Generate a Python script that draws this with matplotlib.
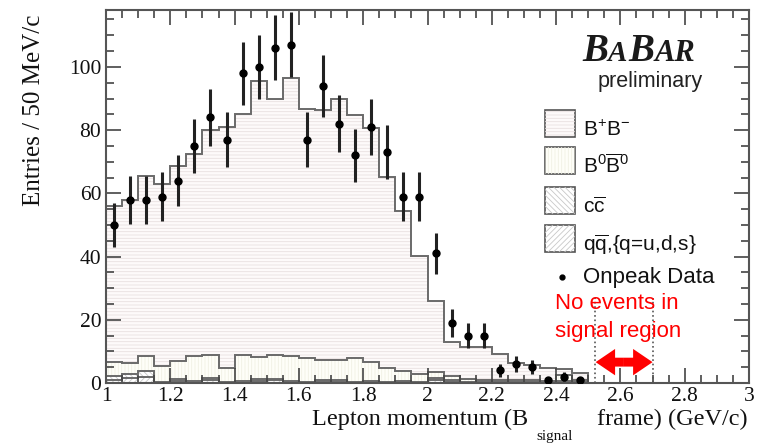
import numpy as np
import matplotlib

matplotlib.use("Agg")

import matplotlib.pyplot as plt
from matplotlib.patches import FancyArrowPatch, Rectangle
from matplotlib.ticker import FuncFormatter, MultipleLocator

W, H = 760, 444

plt.rcParams["font.family"] = ["Liberation Serif", "DejaVu Serif"]
plt.rcParams["mathtext.fontset"] = "custom"
plt.rcParams["mathtext.rm"] = "Liberation Sans"
plt.rcParams["mathtext.it"] = "Liberation Sans:italic"
plt.rcParams["hatch.linewidth"] = 0.6

# 50 MeV/c bins, lepton momentum in GeV/c
BIN_EDGES = np.linspace(1.0, 2.5, 31)

ONPEAK = [50, 58, 58, 59, 64, 75, 84, 77, 98, 100,
          106, 107, 77, 94, 82, 72, 81, 73, 59, 59,
          41, 19, 15, 15, 4, 6, 5, 1, 2, 1]

BPBM = [49.2, 51.7, 56.8, 57.6, 61.7, 63.8, 71.0, 76.1, 76.3, 87.2,
        81.0, 88.1, 78.8, 79.2, 82.3, 77.0, 74.0, 60.5, 50.5, 37.2,
        22.4, 10.9, 10.1, 10.4, 8.4, 5.4, 4.8, 4.0, 1.8, 2.5]
B0B0 = [4.5, 3.3, 4.8, 5.0, 5.8, 8.0, 7.4, 4.6, 8.3, 7.0,
        7.5, 8.0, 7.4, 6.2, 6.6, 7.6, 6.1, 4.5, 3.3, 2.7,
        2.1, 1.3, 0.9, 0.7, 0.5, 0.7, 0.6, 0.4, 2.0, 0.6]
CCBAR = [1.3, 1.5, 1.8, 0.4, 0.7, 0.6, 0.7, 0.3, 0.6, 0.8,
         0.6, 0.2, 0.4, 0.6, 0.4, 0.3, 0.3, 0.3, 0.3, 0.3,
         0.7, 0.4, 0.4, 0.3, 0.3, 0.3, 0.2, 0.2, 0.3, 0.2]
UDS = [1.0, 1.5, 2.0, 0.0, 0.5, 0.0, 0.8, 0.0, 0.0, 0.5,
       0.8, 0.3, 0.0, 0.5, 0.4, 0.0, 0.2, 0.0, 0.2, 0.0,
       0.8, 0.4, 0.0, 0.0, 0.0, 0.0, 0.0, 0.0, 0.2, 0.0]

LEGEND_LABELS = [
    r"B$^{+}$B$^{-}$",
    r"B$^{0}\overline{\mathrm{B}}^{0}$",
    r"c$\overline{\mathrm{c}}$",
    r"q$\overline{\mathrm{q}}$,{q=u,d,s}",
]

# drawn bottom to top: (values, face, hatch, hatch colour)
LAYERS = [
    (UDS, "#ffffff", "//////", "#c8c8c8"),
    (CCBAR, "#ffffff", "\\\\\\\\\\\\", "#c8c8c8"),
    (B0B0, "#fefef8", "|||||", "#f0f0e4"),
    (BPBM, "#fdfafa", "-----", "#e8e0e0"),
]


def fx(x):
    return x / W


def fy(y):
    return 1 - y / H


fig = plt.figure(figsize=(W / 100, H / 100), dpi=100, facecolor="white")
ax = fig.add_axes([fx(106), fy(383), (749 - 106) / W, (383 - 10) / H])

bottom = np.zeros(len(BPBM))
for vals, face, hatch, hcol in LAYERS:
    top = bottom + np.asarray(vals)
    ax.stairs(top, BIN_EDGES, baseline=bottom, fill=True, facecolor=face, lw=0)
    ax.stairs(top, BIN_EDGES, baseline=bottom, fill=True, facecolor="none",
              edgecolor=hcol, hatch=hatch, lw=0)
    bottom = top

bottom = np.zeros(len(BPBM))
for vals, *_ in LAYERS:
    bottom = bottom + np.asarray(vals)
    ax.stairs(bottom, BIN_EDGES, color="#6a6a6a", lw=1.4)

centers = 0.5 * (BIN_EDGES[:-1] + BIN_EDGES[1:])
counts = np.asarray(ONPEAK, dtype=float)
ax.errorbar(centers, counts, yerr=np.sqrt(counts), fmt="o", ms=5,
            color="black", ecolor="#222222", elinewidth=2.2, capsize=0, zorder=5)

# signal region
ax.vlines([2.52, 2.70], 0, 27, colors="#555555", linestyles=":", lw=1.2)
for end in (2.523, 2.70):
    ax.add_patch(FancyArrowPatch((2.611, 6.6), (end, 6.6),
                                 arrowstyle="simple,head_length=0.7,head_width=0.95,tail_width=0.32",
                                 mutation_scale=20, color="red", lw=0,
                                 shrinkA=0, shrinkB=0))

ax.set_xlim(1, 3)
ax.set_ylim(0, 118)
ax.xaxis.set_major_locator(MultipleLocator(0.2))
ax.xaxis.set_minor_locator(MultipleLocator(0.05))
ax.yaxis.set_major_locator(MultipleLocator(20))
ax.yaxis.set_minor_locator(MultipleLocator(5))
ax.xaxis.set_major_formatter(FuncFormatter(lambda v, _: f"{v:g}"))
ax.tick_params(which="both", direction="in", top=True, right=True,
               color="#444444", width=1.2, labelsize=15.5, labelcolor="#111111")
ax.tick_params(which="major", length=11)
ax.tick_params(which="minor", length=6)
ax.tick_params(axis="x", pad=3)
for s in ax.spines.values():
    s.set_color("#555555")
    s.set_linewidth(1.5)

# axis titles
fig.text(fx(34), fy(110), "Entries / 50 MeV/c", rotation=90,
         ha="center", va="center", size=18, color="#111111")
fig.text(fx(528), fy(425), "Lepton momentum (B", ha="right", va="baseline",
         size=17.5, color="#111111")
fig.text(fx(536), fy(440), "signal", ha="left", va="baseline",
         size=11, color="#111111")
fig.text(fx(748), fy(425), "frame) (GeV/c)", ha="right", va="baseline",
         size=17.5, color="#111111")

# BaBar logo
logo = dict(color="#1a1a1a", weight="bold", style="italic", va="baseline")
for x, txt, size in [(582, "B", 28), (608, "A", 21), (628, "B", 28),
                     (655, "AR", 22)]:
    fig.text(fx(x), fy(61), txt, size=size, **logo)
fig.text(fx(598), fy(87), "preliminary", family="Liberation Sans",
         size=15.5, color="#222222", va="baseline")

# legend
box_tops = [110, 147, 187, 225]
for (vals, face, hatch, hcol), label, ytop in zip(LAYERS[::-1], LEGEND_LABELS, box_tops):
    r = Rectangle((fx(545), fy(ytop + 27)), 30 / W, 27 / H, transform=fig.transFigure,
                  facecolor=face, edgecolor="#555555", lw=1.2)
    fig.add_artist(r)
    rh = Rectangle((fx(545), fy(ytop + 27)), 30 / W, 27 / H, transform=fig.transFigure,
                   facecolor="none", edgecolor=hcol, hatch=hatch, lw=0)
    fig.add_artist(rh)
    fig.text(fx(583), fy(ytop + 26), label, family="Liberation Sans",
             size=15, color="#111111", va="baseline")

fig.add_artist(plt.Line2D([fx(561.7)], [fy(277.3)], marker="o", ms=3.5,
                          color="black", transform=fig.transFigure))
fig.text(fx(583), fy(283), "Onpeak Data", family="Liberation Sans",
         size=16, color="#111111", va="baseline")

fig.text(fx(555), fy(309), "No events in", family="Liberation Sans",
         size=16, color="#ff0000", va="baseline")
fig.text(fx(555), fy(337), "signal region", family="Liberation Sans",
         size=16, color="#ff0000", va="baseline")

fig.savefig("out.png", dpi=100, facecolor="white")
